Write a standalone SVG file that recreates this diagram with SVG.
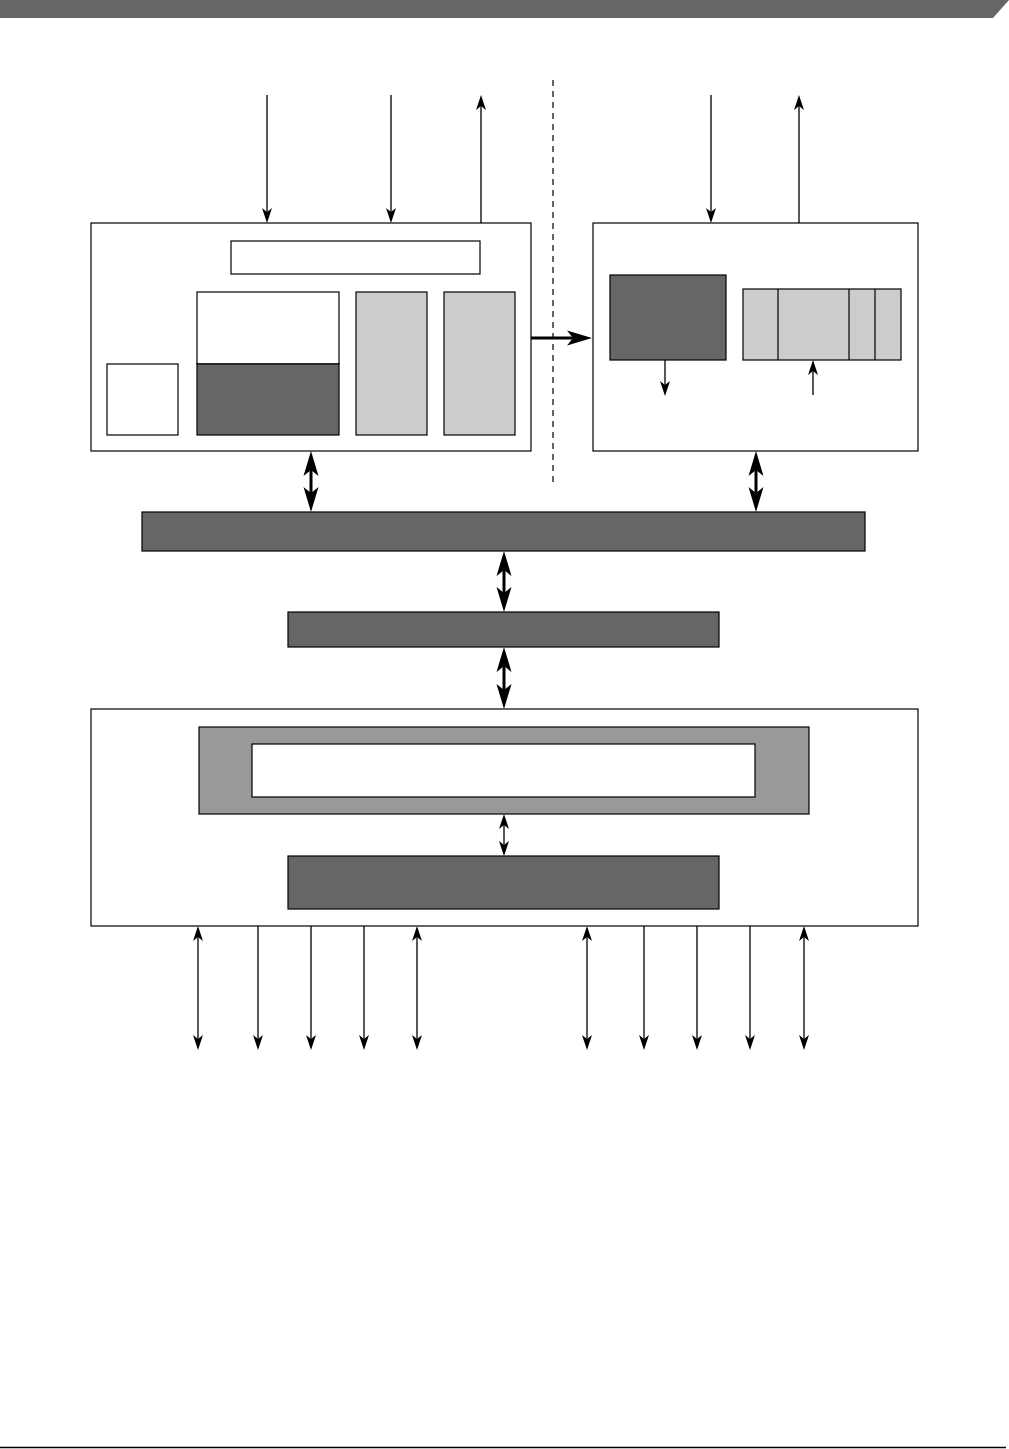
<svg xmlns="http://www.w3.org/2000/svg" width="1009" height="1449" viewBox="0 0 1009 1449">
<style>
.box{fill:#ffffff;stroke:#000;stroke-width:1.2}
.dark{fill:#666666;stroke:#000;stroke-width:1.2}
.light{fill:#cccccc;stroke:#000;stroke-width:1.2}
.mid{fill:#999999;stroke:#000;stroke-width:1.2}
.thin{stroke:#000;stroke-width:1.3;fill:none}
.thick{stroke:#000;stroke-width:3;fill:none}
.ta{marker-end:url(#ah)}
.tb{marker-start:url(#ah);marker-end:url(#ah)}
.ka{marker-end:url(#ahk)}
.kb{marker-start:url(#ahk);marker-end:url(#ahk)}
</style>
<defs>
<marker id="ah" markerUnits="userSpaceOnUse" orient="auto-start-reverse" refX="-3" refY="0" markerWidth="1" markerHeight="1" overflow="visible">
<path d="M0,0 L-15,-5 L-11,0 L-15,5 Z" fill="#000"/>
</marker>
<marker id="ahk" markerUnits="userSpaceOnUse" orient="auto-start-reverse" refX="-8" refY="0" markerWidth="1" markerHeight="1" overflow="visible">
<path d="M0,0 L-25,-7.5 L-19,0 L-25,7.5 Z" fill="#000"/>
</marker>
</defs>
<rect width="1009" height="1449" fill="#fff"/>
<g id="header"><polygon points="0,0 1009,0 993,18 0,18" fill="#666666"/></g>
<g id="footer"><line x1="0" y1="1447.5" x2="1006" y2="1447.5" stroke="#000" stroke-width="1.5"/></g>
<g id="divider"><line x1="553" y1="80" x2="553" y2="483" stroke="#000" stroke-width="1.2" stroke-dasharray="6,5"/></g>

<g id="left-block">
<rect class="box" x="91" y="223" width="440" height="228"/>
<rect class="box" x="231" y="241" width="249" height="33"/>
<rect class="box" x="197" y="292" width="142" height="72"/>
<rect class="dark" x="197" y="364" width="142" height="71"/>
<rect class="box" x="107" y="364" width="71" height="71"/>
<rect class="light" x="356" y="292" width="71" height="143"/>
<rect class="light" x="444" y="292" width="71" height="143"/>
</g>

<g id="right-block">
<rect class="box" x="593" y="223" width="325" height="228"/>
<rect class="dark" x="610" y="275" width="116" height="85"/>
<rect class="light" x="743" y="289" width="158" height="71"/>
<line x1="778" y1="289" x2="778" y2="360" stroke="#000" stroke-width="1.2"/>
<line x1="849" y1="289" x2="849" y2="360" stroke="#000" stroke-width="1.2"/>
<line x1="875" y1="289" x2="875" y2="360" stroke="#000" stroke-width="1.2"/>
</g>

<g id="bus"><rect class="dark" x="142" y="512" width="723" height="39"/></g>
<g id="bridge"><rect class="dark" x="288" y="612" width="431" height="35"/></g>

<g id="bottom-block">
<rect class="box" x="91" y="709" width="827" height="217"/>
<rect class="mid" x="199" y="727" width="610" height="87"/>
<rect class="box" x="252" y="744" width="503" height="53"/>
<rect class="dark" x="288" y="856" width="431" height="53"/>
</g>

<g id="connectors">
<line class="thin ta" x1="267" y1="95" x2="267" y2="220"/>
<line class="thin ta" x1="391" y1="95" x2="391" y2="220"/>
<line class="thin ta" x1="481" y1="223" x2="481" y2="98"/>
<line class="thin ta" x1="711" y1="95" x2="711" y2="220"/>
<line class="thin ta" x1="799" y1="223" x2="799" y2="98"/>
<line class="thin ta" x1="665" y1="360" x2="665" y2="393"/>
<line class="thin ta" x1="813" y1="395" x2="813" y2="363"/>
<line class="thick ka" x1="531" y1="338" x2="584" y2="338"/>
<line class="thick kb" x1="311" y1="459" x2="311" y2="504"/>
<line class="thick kb" x1="756" y1="459" x2="756" y2="504"/>
<line class="thick kb" x1="504" y1="559" x2="504" y2="604"/>
<line class="thick kb" x1="504" y1="655" x2="504" y2="701"/>
<line class="thin tb" x1="504" y1="817" x2="504" y2="853"/>
<line class="thin tb" x1="198" y1="929" x2="198" y2="1047"/>
<line class="thin ta" x1="258" y1="926" x2="258" y2="1047"/>
<line class="thin ta" x1="311" y1="926" x2="311" y2="1047"/>
<line class="thin ta" x1="364" y1="926" x2="364" y2="1047"/>
<line class="thin tb" x1="417" y1="929" x2="417" y2="1047"/>
<line class="thin tb" x1="587" y1="929" x2="587" y2="1047"/>
<line class="thin ta" x1="644" y1="926" x2="644" y2="1047"/>
<line class="thin ta" x1="697" y1="926" x2="697" y2="1047"/>
<line class="thin ta" x1="750" y1="926" x2="750" y2="1047"/>
<line class="thin tb" x1="804" y1="929" x2="804" y2="1047"/>
</g>
</svg>
